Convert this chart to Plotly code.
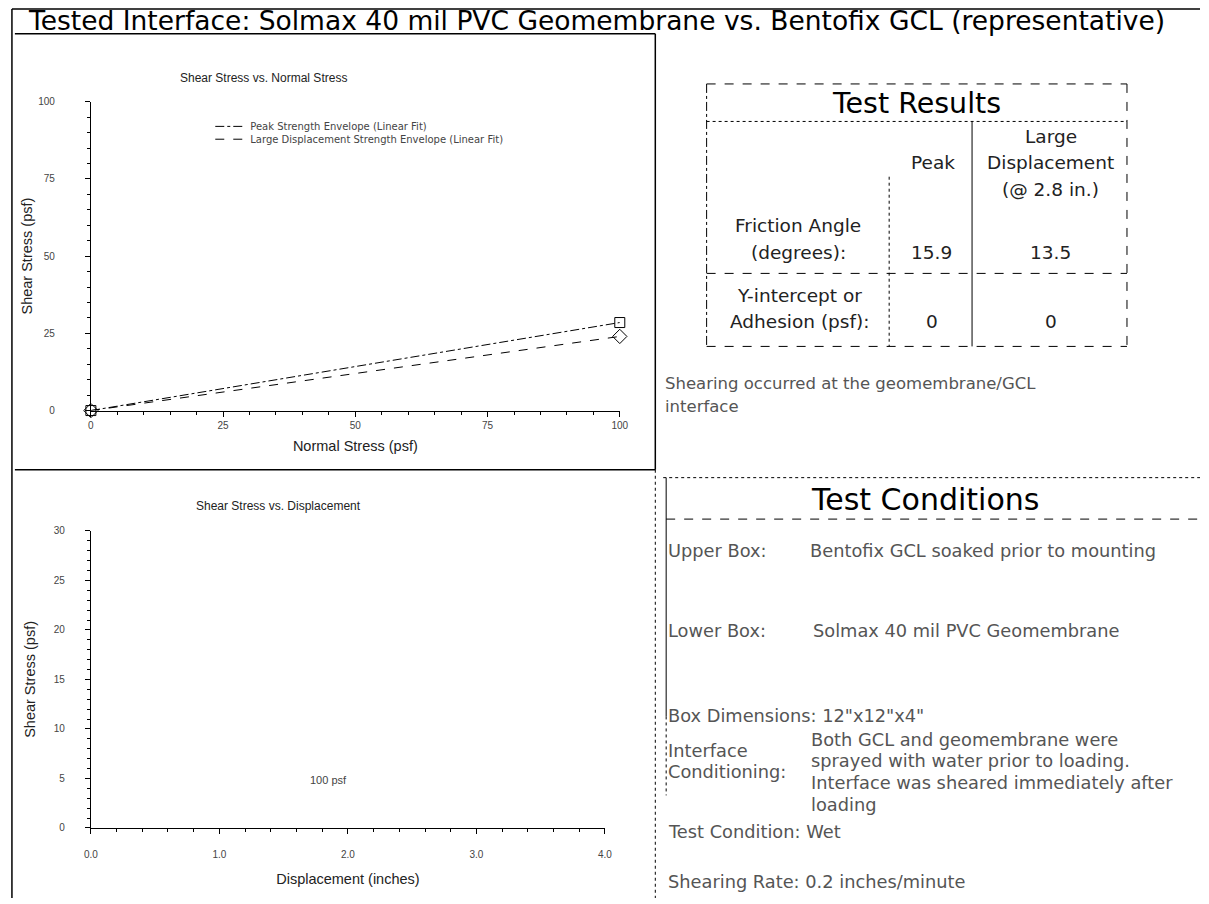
import plotly.graph_objects as go

W, H = 1209, 904

# ---------------- data ----------------
normal_stress = [0, 100]
peak_shear = [0, 28.5]
large_disp_shear = [0, 24.0]
peak_label = "Peak Strength Envelope (Linear Fit)"
ld_label = "Large Displacement Strength Envelope (Linear Fit)"

normal_ticks = [0, 25, 50, 75, 100]
shear_ticks_top = [0, 25, 50, 75, 100]
disp_ticks = [0.0, 1.0, 2.0, 3.0, 4.0]
disp_tick_labels = ["0.0", "1.0", "2.0", "3.0", "4.0"]
shear_ticks_bottom = [0, 5, 10, 15, 20, 25, 30]

results_col_peak = ["Peak"]
results_col_ld = ["Large", "Displacement", "(@ 2.8 in.)"]
friction_label = ["Friction Angle", "(degrees):"]
adhesion_label = ["Y-intercept or", "Adhesion (psf):"]
friction_angle = ["15.9", "13.5"]
adhesion = ["0", "0"]

note_lines = ["Shearing occurred at the geomembrane/GCL", "interface"]
cond_labels = ["Upper Box:", "Lower Box:"]
cond_values = ["Bentofix GCL soaked prior to mounting", "Solmax 40 mil PVC Geomembrane"]
box_dims = "Box Dimensions: 12\"x12\"x4\""
interface_label = ["Interface", "Conditioning:"]
interface_text = ["Both GCL and geomembrane were", "sprayed with water prior to loading.",
                  "Interface was sheared immediately after", "loading"]
test_condition = "Test Condition: Wet"
shear_rate = "Shearing Rate: 0.2 inches/minute"


def px(x):
    return x / W


def py(y):
    return 1 - y / H


fig = go.Figure()

# envelope lines (legend entries)
fig.add_trace(go.Scatter(
    x=normal_stress, y=peak_shear, mode="lines", name=peak_label, legend="legend",
    line=dict(color="black", width=1, dash="dashdot"), xaxis="x", yaxis="y"))
fig.add_trace(go.Scatter(
    x=normal_stress, y=large_disp_shear, mode="lines", name=ld_label, legend="legend2",
    line=dict(color="black", width=1, dash="dash"), xaxis="x", yaxis="y"))
# test points
fig.add_trace(go.Scatter(
    x=normal_stress, y=peak_shear, mode="markers", showlegend=False,
    marker=dict(symbol="square-open", size=10, color="black", line=dict(width=1)),
    xaxis="x", yaxis="y", cliponaxis=False))
fig.add_trace(go.Scatter(
    x=normal_stress, y=large_disp_shear, mode="markers", showlegend=False,
    marker=dict(symbol="diamond-open", size=11, color="black", line=dict(width=1)),
    xaxis="x", yaxis="y", cliponaxis=False))
fig.add_trace(go.Scatter(x=[], y=[], xaxis="x2", yaxis="y2", showlegend=False))

tickfont = dict(size=10, color="#444", family="Liberation Sans")
titlefont = dict(size=14.5, color="#222", family="Liberation Sans")
axis_common = dict(showgrid=False, zeroline=False, showline=True, linecolor="black",
                   linewidth=1, ticks="outside", ticklen=5, tickcolor="black",
                   tickfont=tickfont, mirror=False)
legend_common = dict(xanchor="left", yanchor="middle",
                     font=dict(size=10, color="#444", family="DejaVu Sans"),
                     bgcolor="rgba(0,0,0,0)", itemwidth=30, tracegroupgap=0)

fig.update_layout(
    width=W, height=H, margin=dict(l=0, r=0, t=0, b=0),
    paper_bgcolor="white", plot_bgcolor="white",
    font=dict(family="Liberation Sans", color="black"),
    xaxis=dict(domain=[px(85), px(621)], range=[0, 100], anchor="y",
               tickvals=normal_ticks, minor=dict(ticks="outside", ticklen=3, dtick=5, tickcolor="black"),
               title=dict(text="Normal Stress (psf)", font=titlefont, standoff=11),
               **axis_common),
    yaxis=dict(domain=[py(410), py(97)], range=[0, 100], anchor="x",
               tickvals=shear_ticks_top, minor=dict(ticks="outside", ticklen=3, dtick=5, tickcolor="black"),
               ticklabelstandoff=28,
               title=dict(text="Shear Stress (psf)", font=titlefont, standoff=2),
               **axis_common),
    xaxis2=dict(domain=[px(85), px(606)], range=[0, 4], anchor="y2",
                tickvals=disp_ticks, ticktext=disp_tick_labels,
                minor=dict(ticks="outside", ticklen=3, dtick=0.2, tickcolor="black"),
                ticklabelstandoff=12,
                title=dict(text="Displacement (inches)", font=titlefont, standoff=14),
                **axis_common),
    yaxis2=dict(domain=[py(833), py(532)], range=[0, 30], anchor="x2",
                tickvals=shear_ticks_bottom, minor=dict(ticks="outside", ticklen=3, dtick=1, tickcolor="black"),
                ticklabelstandoff=18,
                title=dict(text="Shear Stress (psf)", font=titlefont, standoff=14),
                **axis_common),
    legend=dict(x=px(206), y=py(122), **legend_common),
    legend2=dict(x=px(206), y=py(135), **legend_common),
    showlegend=True,
)

shapes = []


def line(x0, y0, x1, y1, dash="solid", width=1, color="black"):
    shapes.append(dict(type="line", xref="paper", yref="paper",
                       x0=px(x0), y0=py(y0), x1=px(x1), y1=py(y1),
                       line=dict(color=color, width=width, dash=dash)))


# page frame
line(5, 3, 1209, 3, width=1.5)
line(5, 3, 5, 904, width=1.5)
# left panels
line(8, 28, 657, 28, width=1.5)
line(657, 28, 657, 470, width=1.5)
line(8, 470, 657, 470, width=1.5)
line(657, 470, 657, 904, dash="dot")
# test results table
line(709, 79, 1135, 79, dash="dash")
line(709, 345, 1135, 345, dash="dash")
line(709, 79, 709, 345, dash="dashdot")
line(1135, 79, 1135, 345, dash="dash")
line(709, 117, 1135, 117, dash="dot")
line(709, 271, 1135, 271, dash="dash")
line(978, 117, 978, 345)
line(894, 173, 894, 345, dash="dot")
# test conditions
line(665, 478, 1209, 478, dash="dot")
line(668, 478, 668, 720)
line(668, 720, 668, 800, dash="dot")
line(668, 520, 1209, 520, dash="dash")

annotations = []


def text(x, y, s, size=13, anchor="left", color="#333", family="Liberation Sans"):
    annotations.append(dict(xref="paper", yref="paper", x=px(x), y=py(y), text=s,
                            showarrow=False, xanchor=anchor, yanchor="middle", align=anchor,
                            font=dict(size=size, color=color, family=family)))


DV = "DejaVu Sans"
text(597, 15, "Tested Interface: Solmax 40 mil PVC Geomembrane vs. Bentofix GCL (representative)",
     size=26.5, anchor="center", color="black", family=DV)
text(260, 73, "Shear Stress vs. Normal Stress", size=12, anchor="center", color="#222")
text(275, 507, "Shear Stress vs. Displacement", size=12, anchor="center", color="#222")
annotations.append(dict(xref="x2", yref="y2", x=1.85, y=4.8, text="100 psf", showarrow=False,
                        font=dict(size=11, color="#444", family="Liberation Sans")))

# test results
TS = 18.5
text(922, 99, "Test Results", size=28.5, anchor="center", color="black", family=DV)
text(938, 159, results_col_peak[0], size=TS, anchor="center", color="#222", family=DV)
for i, s in enumerate(results_col_ld):
    text(1058, 132 + 27 * i, s, size=TS, anchor="center", color="#222", family=DV)
for i, s in enumerate(friction_label):
    text(802, 222 + 28 * i, s, size=TS, anchor="center", color="#222", family=DV)
text(937, 250, friction_angle[0], size=TS, anchor="center", color="#222", family=DV)
text(1058, 250, friction_angle[1], size=TS, anchor="center", color="#222", family=DV)
for i, s in enumerate(adhesion_label):
    text(803, 293 + 27 * i, s, size=TS, anchor="center", color="#222", family=DV)
text(937, 320, adhesion[0], size=TS, anchor="center", color="#222", family=DV)
text(1058, 320, adhesion[1], size=TS, anchor="center", color="#222", family=DV)

for i, s in enumerate(note_lines):
    text(665, 383 + 23 * i, s, size=16.5, color="#555", family=DV)

# test conditions
text(930, 500, "Test Conditions", size=30, anchor="center", color="black", family=DV)
CS = 17.8
text(668, 552, cond_labels[0], size=CS, color="#555", family=DV)
text(812, 552, cond_values[0], size=CS, color="#555", family=DV)
text(668, 633, cond_labels[1], size=CS, color="#555", family=DV)
text(815, 633, cond_values[1], size=CS, color="#555", family=DV)
text(668, 719, box_dims, size=CS, color="#555", family=DV)
for i, s in enumerate(interface_label):
    text(668, 755 + 21 * i, s, size=CS, color="#555", family=DV)
for i, s in enumerate(interface_text):
    text(813, 743 + 22 * i, s, size=CS, color="#555", family=DV)
text(668, 837, test_condition, size=CS, color="#555", family=DV)
text(668, 887, shear_rate, size=CS, color="#555", family=DV)

fig.update_layout(shapes=shapes, annotations=annotations)

fig.write_html("out.html", config={"displayModeBar": False},
               post_script="document.body.style.margin='0';")
